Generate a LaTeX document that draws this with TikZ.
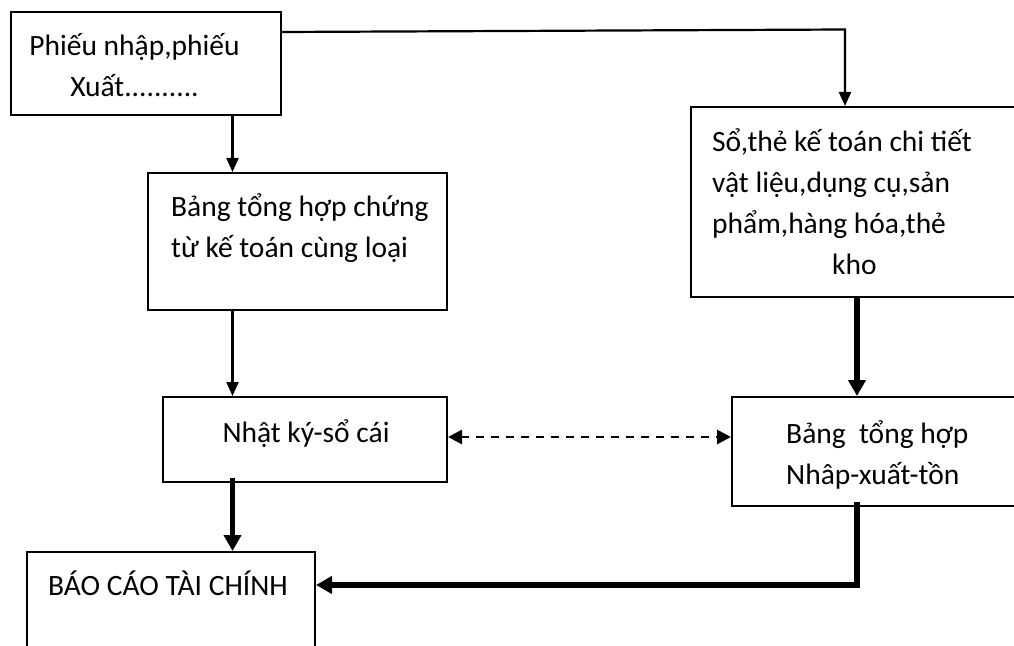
\documentclass[tikz,border=0pt]{standalone}
\usepackage{fontspec}
\setmainfont{Carlito}
\usetikzlibrary{arrows.meta}
\begin{document}
\begin{tikzpicture}[x=1bp,y=-1bp,
  box/.style={draw,line width=2bp,inner sep=0pt},
  lbl/.style={inner sep=0pt,font=\fontsize{29.5bp}{41bp}\selectfont},
  flow/.style={line width=2.2bp,-{Triangle[width=12bp,length=14bp]}},
  heavy/.style={line width=5.5bp,-{Triangle[width=17bp,length=16bp]}},
  link/.style={line width=2.8bp,dash pattern=on 8bp off 7bp,
    {Triangle[width=14bp,length=14bp]}-{Triangle[width=14bp,length=14bp]}}]
\useasboundingbox (0,0) rectangle (1014,646);
\clip (0,0) rectangle (1014,646);

% boxes
\node[box,minimum width=270bp,minimum height=103bp] (src) at (146,63.5) {};
\node[box,minimum width=299bp,minimum height=137bp] (sum) at (297.5,241.5) {};
\node[box,minimum width=340bp,minimum height=190bp] (ledger) at (861,202) {};
\node[box,minimum width=284bp,minimum height=85bp] (journal) at (305,439.5) {};
\node[box,minimum width=300bp,minimum height=109bp] (nxt) at (882,451.5) {};
\node[box,minimum width=288bp,minimum height=140bp] (report) at (171,622) {};

% box texts (a multi-line node sits on the baseline of its last line)
\node[lbl,align=center,anchor=base] (srcT) at (134.5,97) {Phiếu nhập,phiếu\\Xuất..........};
\node[lbl,align=left,anchor=base west] (sumT) at (171,258) {Bảng tổng hợp chứng\\từ kế toán cùng loại};
\node[lbl,align=left,anchor=base west] (ledgerT) at (712,275) {Sổ,thẻ kế toán chi tiết\\vật liệu,dụng cụ,sản\\phẩm,hàng hóa,thẻ\\\hspace*{120bp}kho};
\node[lbl,anchor=base] (journalT) at (306,442) {Nhật ký-sổ cái};
\node[lbl,align=left,anchor=base west] (nxtT) at (786,484) {Bảng\ \ tổng hợp\\Nhâp-xuất-tồn};
\node[lbl,anchor=base west] (reportT) at (48,595) {BÁO CÁO TÀI CHÍNH};

% guide positions for the connectors
\coordinate (xa) at (232.5,0);
\coordinate (xc) at (857,0);
\coordinate (ya) at (0,32);
\coordinate (turn) at (845,29.5);
\coordinate (yd) at (0,437);
\coordinate (yr) at (0,585);

% connectors
\draw[flow] (src.east |- ya) -- (turn) -- (ledger.north -| turn);
\draw[flow] (src.south -| xa) -- (sum.north -| xa);
\draw[flow] (sum.south -| xa) -- (journal.north -| xa);
\draw[heavy] (ledger.south -| xc) -- (nxt.north -| xc);
\draw[link] (journal.east |- yd) -- (nxt.west |- yd);
\draw[heavy,shorten <=-5bp] (journal.south -| xa) -- (report.north -| xa);
\draw[heavy,shorten <=-5bp] (nxt.south -| xc) -- (xc |- yr) -- (report.east |- yr);
\end{tikzpicture}
\end{document}
